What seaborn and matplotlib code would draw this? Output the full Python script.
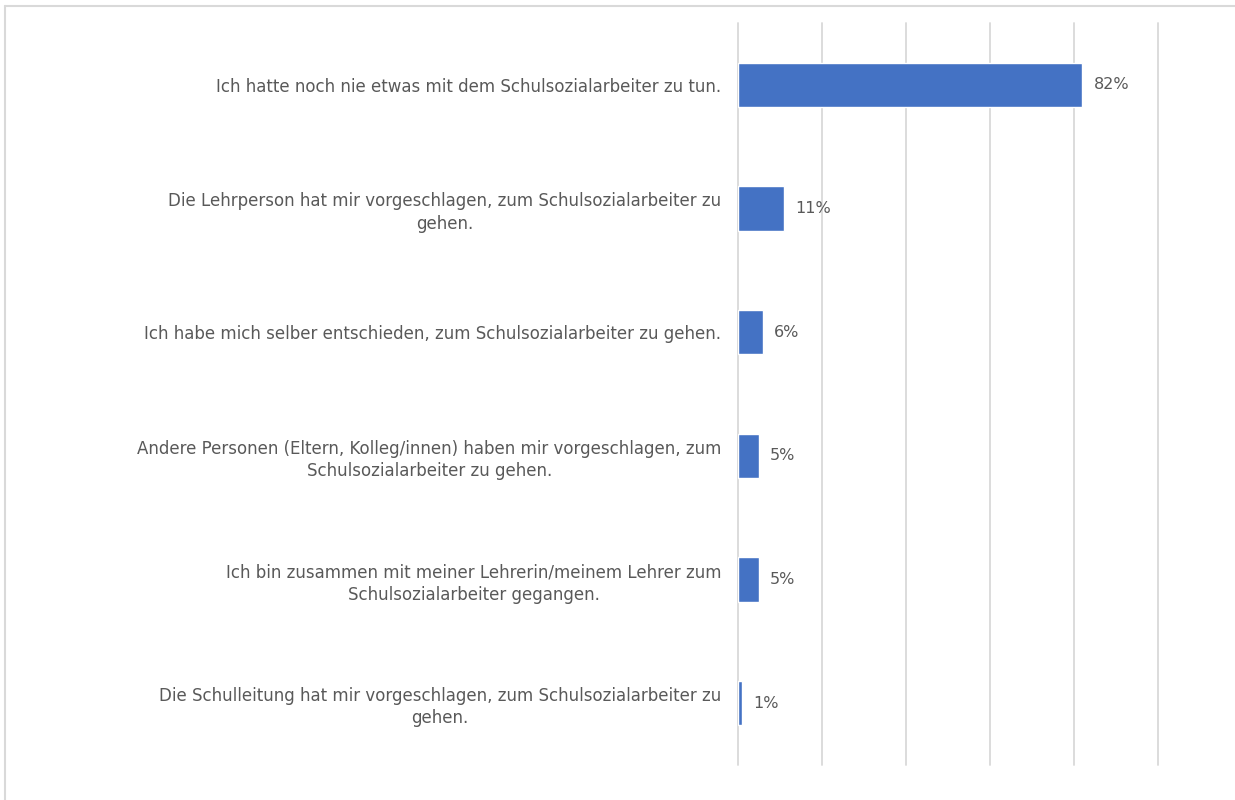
import matplotlib
matplotlib.use("Agg")
import matplotlib.pyplot as plt
from matplotlib.lines import Line2D
import seaborn as sns
import pandas as pd

# Daten aus der Grafik
antworten = [
    "Ich hatte noch nie etwas mit dem Schulsozialarbeiter zu tun.",
    "Die Lehrperson hat mir vorgeschlagen, zum Schulsozialarbeiter zu\ngehen.",
    "Ich habe mich selber entschieden, zum Schulsozialarbeiter zu gehen.",
    "Andere Personen (Eltern, Kolleg/innen) haben mir vorgeschlagen, zum\nSchulsozialarbeiter zu gehen.",
    "Ich bin zusammen mit meiner Lehrerin/meinem Lehrer zum\nSchulsozialarbeiter gegangen.",
    "Die Schulleitung hat mir vorgeschlagen, zum Schulsozialarbeiter zu\ngehen.",
]
anteile = [0.82, 0.11, 0.06, 0.05, 0.05, 0.01]
prozent_labels = ["82%", "11%", "6%", "5%", "5%", "1%"]

df = pd.DataFrame({"antwort": antworten, "anteil": anteile})

sns.set_theme(style="white")
plt.rcParams["font.family"] = ["DejaVu Sans"]
textfarbe = "#595959"

fig = plt.figure(figsize=(12.35, 8), dpi=100)
ax = fig.add_axes([738 / 1235, 35 / 800, (1158 - 738) / 1235, (777 - 35) / 800])

sns.barplot(data=df, y="antwort", x="anteil", orient="h", color="#4472C4",
            width=0.36, saturation=1, ax=ax)

ax.set_xlim(0, 1)
ax.set_xticks([0, 0.2, 0.4, 0.6, 0.8, 1.0])
ax.xaxis.grid(True, color="#d9d9d9", linewidth=1.3)
for gl in ax.get_xgridlines():
    gl.set_clip_on(False)
ax.set_axisbelow(True)
ax.tick_params(axis="x", labelbottom=False, length=0)
ax.tick_params(axis="y", length=0, pad=12)
ax.set_yticklabels(ax.get_yticklabels(), fontsize=12, color=textfarbe,
                   ha="right", multialignment="center", linespacing=1.3)
ax.set_xlabel("")
ax.set_ylabel("")
for s in ax.spines.values():
    s.set_visible(False)

for cont in ax.containers:
    ax.bar_label(cont, labels=prozent_labels, padding=8, fontsize=11.5,
                 color=textfarbe)

# Rahmen (nur links und oben sichtbar)
fig.add_artist(Line2D([4.5 / 1235, 4.5 / 1235], [0, 1 - 5.5 / 800],
                      transform=fig.transFigure, color="#d9d9d9", lw=1.5))
fig.add_artist(Line2D([4.5 / 1235, 1], [1 - 5.5 / 800, 1 - 5.5 / 800],
                      transform=fig.transFigure, color="#d9d9d9", lw=1.5))

fig.savefig("out.png", dpi=100)
